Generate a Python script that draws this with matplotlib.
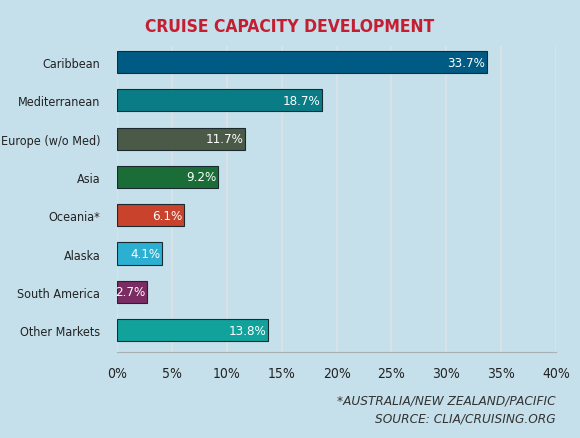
import matplotlib
matplotlib.use('Agg')
from matplotlib import pyplot as plt
import numpy as np

# data
regions = ['Caribbean', 'Mediterranean', 'Europe (w/o Med)', 'Asia',
           'Oceania*', 'Alaska', 'South America', 'Other Markets']
shares = [33.7, 18.7, 11.7, 9.2, 6.1, 4.1, 2.7, 13.8]
colors = ['#005b84', '#0a7c86', '#4b5a46', '#1b6d37',
          '#c9432c', '#2bafd2', '#7b2c63', '#12a29c']
ticks = [0, 5, 10, 15, 20, 25, 30, 35, 40]

plt.rcParams['font.family'] = ['DejaVu Sans']
plt.rcParams['font.stretch'] = 'condensed'

bg = '#c5e0ea'
fig = plt.figure(figsize=(5.8, 4.39), dpi=100, facecolor=bg)
ax = fig.add_axes([117 / 580, 1 - 353 / 439, (556 - 117) / 580, (353 - 47) / 439])
ax.set_facecolor(bg)

y = np.arange(len(regions))
bars = ax.barh(y, shares, height=0.58, color=colors,
               edgecolor='#1a2a30', linewidth=0.8, zorder=3)
for b, v in zip(bars, shares):
    ax.text(v - 0.15, b.get_y() + b.get_height() / 2, '%.1f%%' % v,
            ha='right', va='center', color='white', fontsize=9.5, zorder=4)

ax.set_xlim(0, 40)
ax.set_ylim(len(regions) - 0.43, -0.42)
ax.set_yticks(y)
ax.set_yticklabels(regions, fontsize=9, color='#222222')
ax.set_xticks(ticks)
ax.set_xticklabels(['%d%%' % t for t in ticks], fontsize=10, color='#222222')
ax.tick_params(axis='y', length=0, pad=12)
ax.tick_params(axis='x', length=0, pad=10)
ax.xaxis.grid(True, color='#dce3e6', linewidth=1.1, zorder=0)
for s in ['top', 'right', 'left']:
    ax.spines[s].set_visible(False)
ax.spines['bottom'].set_color('#a8b0b4')

fig.text(290 / 580, 1 - 27 / 439, 'CRUISE CAPACITY DEVELOPMENT', ha='center', va='center',
         color='#c41e30', fontsize=12.5, fontweight='bold')
fig.text(556 / 580, 1 - 401 / 439, '*AUSTRALIA/NEW ZEALAND/PACIFIC', ha='right',
         va='center', fontsize=9.7, style='italic', color='#333333')
fig.text(556 / 580, 1 - 419 / 439, 'SOURCE: CLIA/CRUISING.ORG', ha='right',
         va='center', fontsize=9.7, style='italic', color='#333333')

fig.savefig('out.png', dpi=100, facecolor=bg)
